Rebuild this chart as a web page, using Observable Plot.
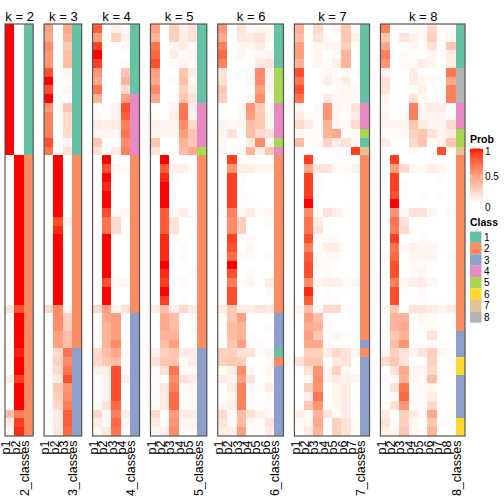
<!DOCTYPE html>
<html><head><meta charset="utf-8">
<script src="https://cdn.jsdelivr.net/npm/d3@7"></script>
<script src="https://cdn.jsdelivr.net/npm/@observablehq/plot@0.6"></script>
<style>body{margin:0;background:#fff;font-family:"Liberation Sans",Arial,sans-serif}</style>
</head><body><div id="chart"></div>
<script>
const ks = [2,3,4,5,6,7,8];
const classColors = ["#66C2A5","#FC8D62","#8DA0CB","#E78AC3","#A6D854","#FFD92F","#E5C494","#B3B3B3"];
const classIds = [1,2,3,4,5,6,7,8];
const probTicks = [0, 0.5, 1];

const k2 = [
[1,0],[1,0],[1,0],[1,0],[1,0],[1,0],[1,0],[1,0],[1,0],[1,0],[1,0],[1,0],[1,0],[1,0],[1,0],
[0,1],[0,1],[0,1],[0,1],[0,1],[0,1],[0,1],[0,1],[0,1],[0,1],[0,1],[0,1],[0,1],[0,1],[0,1],[0,1],[0,1],
[0.15,0.85],[0,1],[0,1],[0,1],[0,1],[0.03,0.97],[0,1],[0,1],[0.1,0.9],[0,1],[0,1],[0,1],[0.35,0.65],[0.1,0.9],[0.05,0.95]
];
const k3 = [
[0.5,0,0.45],[0.45,0,0.4],[0.6,0,0.3],[0.55,0,0.35],[0.55,0,0.35],[0.85,0,0.05],[1,0,0],[0.85,0,0.05],[1,0,0],
[0.55,0.02,0.3],[0.65,0.02,0.2],[0.65,0.02,0.2],[0.65,0,0.2],[0.85,0,0.05],[0.7,0,0.15],
[0,1,0],[0,1,0],[0,1,0],[0,1,0],[0,1,0],[0,1,0],[0,1,0],[0,0.85,0.07],[0,0.95,0.02],
[0,1,0],[0,1,0],[0,1,0],[0,1,0],[0,1,0],[0,1,0],[0,1,0],[0,1,0],
[0.2,0.6,0.05],[0,0.6,0.25],[0,0.6,0.25],[0,0.5,0.35],[0,0.5,0.35],
[0,0.2,0.7],[0,0.25,0.6],[0,0.2,0.7],[0,0.1,0.85],[0,0.3,0.55],[0,0.25,0.6],[0,0.2,0.65],[0.02,0.1,0.8],[0,0.1,0.8],[0,0.12,0.75]
];
const k4 = [
[0.8,0,0.08,0.03],[0.5,0,0.25,0.08],[0.9,0,0,0.03],[1,0,0,0],[0.9,0,0,0.02],[0.55,0,0,0.3],[0.45,0,0,0.4],[0.7,0,0,0.2],
[0.4,0,0,0.5],[0,0.02,0.06,0.85],[0.03,0,0.06,0.8],[0.1,0.08,0.1,0.65],[0.05,0.05,0.05,0.7],[0.3,0,0,0.6],[0.15,0,0.1,0.65],
[0,1,0,0],[0,0.85,0.05,0.03],[0,1,0.02,0],[0,0.95,0.02,0],[0,1,0,0],[0,1,0,0],[0,0.85,0.03,0.05],[0,0.7,0.2,0],[0,0.7,0.2,0],
[0,1,0,0],[0,1,0,0],[0,1,0,0],[0,1,0,0],[0,1,0,0],[0,0.85,0.03,0.05],[0,1,0,0],[0,1,0,0],[0.2,0.5,0.05,0.15],
[0,0.45,0.5,0],[0,0.4,0.5,0],[0.02,0.4,0.5,0],[0,0.4,0.6,0],[0.2,0.35,0.45,0.02],[0.2,0.3,0.35,0.02],[0.08,0.08,0.85,0.02],
[0,0.05,0.85,0.08],[0,0.06,0.85,0],[0,0.06,0.85,0],[0.03,0.15,0.75,0],[0.2,0.03,0.65,0.1],[0.1,0.03,0.75,0.05],[0.05,0.12,0.7,0.02]
];
const k5 = [
[0.5,0,0.25,0.08,0.15],[0.4,0,0.25,0.1,0.15],[0.7,0,0.05,0.1,0.03],[0.75,0,0.1,0.02,0.05],[0.85,0,0.02,0.05,0.02],
[0.5,0,0,0.3,0.1],[0.45,0,0.02,0.35,0.05],[0.6,0,0,0.25,0.1],[0.45,0,0,0.3,0.15],
[0,0,0.05,0.7,0.1],[0.03,0,0.08,0.7,0.05],[0.08,0.06,0.06,0.6,0.2],[0.05,0.05,0.05,0.5,0.3],[0.3,0,0,0.4,0.3],[0.15,0,0.03,0.35,0.45],
[0,1,0,0,0],[0,0.8,0.08,0.08,0],[0,0.95,0.02,0,0],[0,1,0,0,0],[0,1,0,0,0],[0,1,0,0,0],[0,0.8,0.03,0.1,0.02],[0,0.8,0.15,0,0],[0,0.8,0.15,0,0],
[0,0.95,0.02,0,0],[0,0.95,0,0.02,0],[0,0.95,0,0.02,0],[0,1,0,0,0],[0,0.95,0,0,0.02],[0,0.9,0,0.03,0],[0,1,0,0,0],[0,0.9,0,0.02,0],
[0.1,0.35,0.08,0.2,0.1],[0,0.45,0.35,0,0.02],[0,0.45,0.35,0,0.02],[0,0.4,0.4,0,0],[0,0.35,0.5,0,0],
[0.08,0.25,0.3,0.1,0.1],[0.15,0.3,0.3,0.02,0.1],[0.03,0.15,0.7,0.03,0.03],[0.02,0,0.6,0.15,0.1],[0.03,0.12,0.65,0.02,0.05],
[0.02,0.1,0.75,0.02,0.02],[0.03,0.1,0.75,0.03,0.03],[0.2,0,0.5,0.1,0.1],[0.1,0.02,0.55,0.05,0.05],[0.05,0.08,0.6,0.02,0.03]
];
const k6 = [
[0.55,0,0.15,0.02,0.05,0.05],[0.45,0,0.12,0.1,0.15,0.05],[0.65,0,0.05,0.05,0.1,0],[0.75,0,0.05,0,0.05,0.05],[0.65,0,0,0,0.1,0.15],
[0.15,0,0.02,0.03,0.6,0.05],[0.15,0,0,0.05,0.6,0.05],[0.3,0,0,0,0.5,0.05],[0.25,0,0,0.05,0.6,0],
[0,0,0.05,0.55,0.25,0.03],[0,0,0.05,0.5,0.3,0.05],[0.05,0.03,0.05,0.35,0.3,0.05],[0.05,0.15,0,0.35,0.2,0.15],
[0.03,0,0,0.1,0.6,0.05],[0.05,0,0.03,0.4,0.1,0.3],
[0,0.9,0,0,0,0],[0,0.55,0.1,0.1,0.05,0.05],[0,0.9,0.02,0,0,0],[0,0.9,0.02,0,0,0],[0,0.9,0.02,0.02,0,0],[0,0.9,0.02,0,0,0],
[0.03,0.65,0.05,0.1,0.03,0.05],[0,0.6,0.25,0,0,0.02],[0,0.6,0.25,0,0,0],[0,0.9,0,0.02,0,0],[0,0.85,0,0.05,0,0],
[0.03,0.75,0.03,0.03,0,0.03],[0,1,0,0,0,0],[0,0.85,0,0.03,0,0],[0,0.65,0.03,0.05,0,0.1],[0,0.85,0,0,0,0.03],[0,0.85,0,0,0,0.02],
[0.1,0.3,0.1,0.1,0.15,0.1],[0,0.3,0.5,0,0,0],[0,0.35,0.4,0,0,0.02],[0.02,0.35,0.4,0.02,0,0],[0.03,0.3,0.5,0.02,0.02,0],
[0.25,0.25,0.15,0.15,0.02,0.05],[0.25,0.3,0.25,0,0,0.03],[0,0.1,0.6,0.03,0,0.05],[0.1,0.05,0.5,0.15,0,0.03],
[0,0.1,0.65,0.02,0.02,0.1],[0,0.05,0.65,0.02,0,0.03],[0.05,0.08,0.65,0.02,0.02,0.03],[0.2,0.03,0.35,0.15,0.08,0.03],
[0.15,0.03,0.35,0.05,0.03,0.15],[0.1,0.08,0.5,0.02,0.02,0.1]
];
const k7 = [
[0.4,0,0.2,0,0.05,0.3,0.02],[0.35,0,0.15,0.03,0,0.3,0.08],[0.5,0,0.05,0.05,0.05,0.25,0],[0.5,0,0.05,0,0.03,0.4,0],
[0.4,0,0.05,0.03,0.1,0.4,0],[0.85,0,0,0.05,0,0.03,0.02],[0.7,0,0,0.1,0.03,0.1,0],[0.85,0,0,0,0.03,0.05,0.03],
[0.7,0,0,0.1,0.05,0.05,0.03],[0.05,0,0.03,0.55,0.05,0.02,0.15],[0.1,0.03,0.03,0.55,0.05,0,0.1],[0.2,0.1,0.02,0.4,0.05,0.03,0.2],
[0.05,0.02,0.02,0.4,0.45,0.03,0.03],[0.35,0,0.03,0.25,0.1,0.15,0.05],[0.02,0,0,0,0.02,0,0.9],
[0,0.9,0,0,0,0,0],[0,0.45,0.15,0.15,0.03,0.03,0.07],[0,0.9,0.02,0,0,0,0],[0,0.9,0.02,0,0,0,0],[0,0.9,0,0,0,0,0],
[0,1,0,0,0,0,0],[0,0.6,0.03,0.15,0.08,0.02,0],[0,0.7,0.1,0,0,0,0],[0,0.7,0.15,0,0,0,0],[0,0.85,0,0.02,0.02,0,0],
[0,0.65,0,0.1,0.1,0,0],[0,0.8,0.03,0.03,0.03,0,0],[0,0.85,0.03,0.02,0,0,0],[0,0.85,0,0.02,0,0,0],
[0,0.6,0.05,0.08,0.08,0.02,0.05],[0,0.95,0,0.02,0,0,0],[0,0.8,0,0.03,0.02,0,0],[0.05,0.35,0.03,0.2,0.2,0.03,0.02],
[0,0.5,0.35,0.02,0,0,0],[0,0.45,0.4,0.02,0,0,0],[0,0.5,0.3,0.02,0.05,0.02,0],[0,0.45,0.45,0.02,0.02,0.02,0],
[0,0.25,0.25,0.1,0.2,0.15,0.05],[0.15,0.3,0.3,0,0.1,0.15,0],[0,0.15,0.55,0.05,0.25,0.05,0],[0,0.03,0.6,0.05,0.1,0.08,0.05],
[0,0.25,0.55,0,0.05,0.1,0],[0,0.08,0.7,0,0.05,0.1,0],[0,0.3,0.55,0.02,0.05,0.1,0],[0.1,0.03,0.4,0.15,0.02,0.1,0],
[0.03,0.05,0.45,0,0.25,0.15,0.02],[0.02,0.1,0.4,0,0.25,0.15,0.02]
];
const k8 = [
[0.65,0,0,0.03,0.03,0.2,0.02,0.02],[0.3,0,0.15,0.08,0.03,0.25,0.02,0.05],[0.45,0,0,0.05,0.02,0.15,0,0.3],
[0.65,0,0.03,0,0,0.05,0.02,0.1],[0.55,0,0.03,0.03,0.1,0.05,0,0.1],[0.08,0,0,0.1,0,0,0,0.7],[0.15,0,0,0.1,0.05,0.03,0,0.45],
[0.15,0,0,0,0.08,0,0,0.65],[0.05,0,0,0.15,0.03,0,0,0.65],[0.03,0,0,0.65,0.05,0.1,0.1,0],[0.05,0,0.03,0.65,0.05,0.05,0.05,0.02],
[0.05,0.05,0.05,0.3,0.1,0.05,0.05,0.2],[0.02,0.02,0.03,0.25,0.3,0.15,0.05,0.1],[0.1,0,0,0.2,0.3,0.02,0.05,0.3],
[0,0,0,0.03,0,0,0.85,0.03],
[0,0.9,0,0,0,0,0,0],[0,0.5,0.2,0.05,0.03,0.1,0.05,0],[0,0.9,0,0,0,0,0.02,0],[0,0.9,0.02,0,0,0,0,0],[0,0.85,0.03,0,0.02,0,0.02,0],
[0,1,0,0,0,0,0,0],[0,0.55,0.03,0.15,0.15,0.05,0,0.02],[0,0.7,0.15,0,0,0,0,0],[0,0.65,0.2,0.02,0,0,0,0],[0,0.9,0,0,0.03,0,0,0],
[0,0.7,0.03,0.08,0.05,0.05,0,0],[0.03,0.75,0,0.05,0.05,0.05,0,0.02],[0,0.85,0,0.03,0.03,0,0,0],[0,0.85,0,0.03,0.05,0,0,0],
[0,0.65,0.05,0.08,0.1,0.05,0,0],[0,0.85,0.02,0,0.03,0,0,0],[0,0.85,0,0.02,0.02,0,0,0],[0.05,0.3,0,0.15,0.15,0.1,0.05,0.1],
[0,0.4,0.4,0,0.05,0.03,0,0],[0,0.4,0.45,0,0.02,0.02,0,0],[0.02,0.3,0.4,0,0,0.15,0,0],[0,0.35,0.55,0,0,0.03,0,0],
[0.05,0.25,0.15,0.05,0.15,0.25,0.05,0.02],[0.2,0.3,0.15,0,0,0.25,0,0.02],[0,0.15,0.45,0.05,0.05,0.2,0.02,0],
[0.03,0.02,0.4,0.05,0.03,0.35,0.02,0],[0,0.15,0.7,0,0.03,0.05,0,0],[0,0.02,0.75,0.02,0.03,0.1,0,0],
[0.02,0.15,0.55,0.02,0.02,0.2,0,0],[0.1,0,0.25,0.1,0.03,0.45,0,0.02],[0.15,0.02,0.25,0.05,0,0.3,0.02,0],[0.08,0.05,0.3,0.05,0.02,0.4,0,0]
];

const class2 = "11111111111111122222222222222222222222222222222";
const class3 = "11111111111111122222222222222222222223333333333";
const class4 = "11111111444444422222222222222222233333333333333";
const class5 = "11111111144444522222222222222222222223333333333";
const class6 = "11111555544445422222222222222222233331233333333";
const class7 = "11111111144451722222222222222222222232333333333";
const class8 = "11111888844455722222222222222222222333663333366";

const probs = {2:k2,3:k3,4:k4,5:k5,6:k6,7:k7,8:k8};
const classes = {2:class2,3:class3,4:class4,5:class5,6:class6,7:class7,8:class8};
const rowIds = k2.map((_, i) => i + 1);

const probScale = Plot.scale({color: {type: "linear", domain: [0, 1], range: ["white", "red"], interpolate: d3.interpolateLab}});
const classScale = Plot.scale({color: {type: "ordinal", domain: classIds, range: classColors}});

const gap = 1.16;
let offset = 0;
const panels = ks.map(k => { const start = offset; offset += k + 1 + gap; return {k, start, end: start + k + 1}; });
const total = offset - gap;

const cells = [];
const labels = [];
for (const p of panels) {
  const P = probs[p.k], C = classes[p.k].split("").map(Number);
  P.forEach((row, r) => {
    row.forEach((v, c) => cells.push({x1: p.start + c, x2: p.start + c + 1, row: r + 1, fill: probScale.apply(v)}));
    cells.push({x1: p.start + p.k, x2: p.start + p.k + 1, row: r + 1, fill: classScale.apply(C[r])});
  });
  for (let c = 0; c < p.k; c++) labels.push({x: p.start + c + 0.5, text: "p" + (c + 1)});
  labels.push({x: p.start + p.k + 0.5, text: p.k + "_classes"});
}

const font = '"Liberation Sans", Arial, sans-serif';
const plot = Plot.plot({
  width: 504, height: 504,
  marginLeft: 5, marginRight: 39, marginTop: 24, marginBottom: 68,
  x: {type: "linear", domain: [0, total], axis: null},
  y: {type: "band", domain: rowIds, padding: 0, axis: null},
  color: {type: "identity"},
  style: {fontFamily: font, background: "white", color: "black"},
  marks: [
    Plot.barX(cells, {x1: "x1", x2: "x2", y: "row", fill: "fill", shapeRendering: "crispEdges"}),
    Plot.rect(panels, {x1: "start", x2: "end", fill: "none", stroke: "#555", strokeWidth: 1.2}),
    Plot.text(panels, {x: d => (d.start + d.end) / 2, text: d => `k = ${d.k}`, frameAnchor: "top", dy: -13, fontSize: 13, fill: "black"}),
    Plot.text(labels, {x: "x", text: "text", frameAnchor: "bottom", rotate: -90, textAnchor: "end", dy: 4, fontSize: 12.5, fill: "black"})
  ]
});
document.getElementById("chart").appendChild(plot);

// Legends
const svg = d3.select(plot);
const lg = svg.append("g").attr("font-family", font).attr("fill", "black").attr("text-anchor", "start");
const defs = svg.append("defs");
const grad = defs.append("linearGradient").attr("id", "probgrad").attr("x1", 0).attr("x2", 0).attr("y1", 1).attr("y2", 0);
d3.range(0, 1.0001, 0.05).forEach(t => grad.append("stop").attr("offset", t).attr("stop-color", probScale.apply(t)));
const lx = 470, gTop = 148.5, gH = 55;
lg.append("text").attr("x", lx).attr("y", 143).attr("font-size", 10.5).attr("font-weight", "bold").text("Prob");
lg.append("rect").attr("x", lx).attr("y", gTop).attr("width", 13).attr("height", gH).attr("fill", "url(#probgrad)");
const gy = d3.scaleLinear().domain([0, 1]).range([gTop + gH, gTop]);
probTicks.forEach(t => {
  lg.append("line").attr("x1", lx).attr("x2", lx + 3).attr("y1", gy(t)).attr("y2", gy(t)).attr("stroke", "white").attr("stroke-width", 0.8);
  lg.append("line").attr("x1", lx + 10).attr("x2", lx + 13).attr("y1", gy(t)).attr("y2", gy(t)).attr("stroke", "white").attr("stroke-width", 0.8);
  const ty = t === 1 ? gy(t) + 3 : t === 0 ? gy(t) + 3.5 : gy(t);
  lg.append("text").attr("x", lx + 15).attr("y", ty).attr("dy", "0.35em").attr("font-size", 10).text(t);
});
lg.append("text").attr("x", lx).attr("y", 226).attr("font-size", 10.5).attr("font-weight", "bold").text("Class");
classIds.forEach((c, i) => {
  const y = 231.5 + i * 11.4;
  lg.append("rect").attr("x", lx).attr("y", y).attr("width", 11.5).attr("height", 11.4).attr("fill", classScale.apply(c));
  lg.append("text").attr("x", lx + 14).attr("y", y + 5.7).attr("dy", "0.35em").attr("font-size", 10).text(c);
});
</script></body></html>
